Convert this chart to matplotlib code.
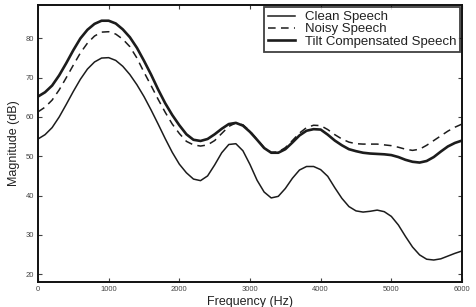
import numpy as np
import matplotlib
matplotlib.use("Agg")
import matplotlib.pyplot as plt

plt.rcParams['font.family'] = ['Liberation Sans', 'DejaVu Sans']

# frequency grid (Hz), values every 100 Hz
freq = np.arange(0, 6001, 100)

clean = [54.4, 55.5, 57.3, 60.0, 63.2, 66.5, 69.6, 72.2, 74.0, 75.0,
         75.1, 74.4, 72.9, 70.8, 68.2, 65.2, 61.8, 58.2, 54.5, 51.0,
         48.0, 45.8, 44.2, 43.8, 45.0, 47.8, 50.9, 53.0, 53.2, 51.4,
         47.9, 43.9, 40.9, 39.4, 39.8, 41.8, 44.4, 46.5, 47.4, 47.4,
         46.6, 44.9, 42.0, 39.3, 37.2, 36.1, 35.8, 36.0, 36.3, 35.9,
         34.7, 32.5, 29.6, 26.9, 24.9, 23.8, 23.6, 23.9, 24.6, 25.3,
         25.9]

noisy = [61.3, 62.5, 64.3, 66.9, 70.0, 73.2, 76.3, 78.8, 80.6, 81.6,
         81.7, 81.1, 79.8, 77.9, 75.0, 71.4, 68.0, 64.5, 61.2, 58.2,
         55.8, 53.8, 52.9, 52.6, 52.9, 54.0, 55.8, 57.6, 58.5, 58.0,
         56.4, 54.3, 52.2, 51.0, 51.1, 52.2, 54.0, 55.9, 57.3, 57.9,
         57.8, 56.8, 55.5, 54.4, 53.6, 53.2, 53.1, 53.1, 53.1, 52.9,
         52.7, 52.3, 51.8, 51.5, 51.8, 52.8, 54.0, 55.2, 56.4, 57.4,
         58.2]

tilt = [65.2, 66.3, 68.0, 70.6, 73.7, 77.0, 80.0, 82.2, 83.7, 84.5,
        84.5, 83.8, 82.3, 80.3, 77.6, 74.3, 70.8, 67.0, 63.5, 60.5,
        57.9, 55.6, 54.2, 53.9, 54.4, 55.6, 57.0, 58.2, 58.5, 57.8,
        56.2, 54.2, 52.1, 50.9, 50.9, 51.8, 53.5, 55.3, 56.5, 56.9,
        56.8, 55.5, 54.0, 52.8, 51.8, 51.3, 50.9, 50.7, 50.6, 50.5,
        50.3, 49.8, 49.1, 48.6, 48.4, 48.8, 49.8, 51.2, 52.5, 53.4,
        54.0]

xticks = [0, 1000, 2000, 3000, 4000, 5000, 6000]
yticks = [20, 30, 40, 50, 60, 70, 80]

fig = plt.figure(figsize=(4.76, 3.07), dpi=100)
ax = fig.add_axes([0.0798, 0.0814, 0.8908, 0.9023])

col = '#1c1c1c'
ax.plot(freq, clean, color=col, lw=1.1, label='Clean Speech')
ax.plot(freq, noisy, color=col, lw=1.1, dashes=(5, 3.5), label='Noisy Speech')
ax.plot(freq, tilt, color=col, lw=1.9, label='Tilt Compensated Speech')

ax.set_xlim(0, 6000)
ax.set_ylim(18, 88.5)
ax.set_xticks(xticks)
ax.set_yticks(yticks)
ax.tick_params(direction='in', length=3, width=0.8, labelsize=5.5,
               top=True, right=True, pad=3, colors='#444444')
for s in ax.spines.values():
    s.set_linewidth(1.4)
    s.set_color('#111111')

ax.set_xlabel('Frequency (Hz)', fontsize=9, labelpad=2, color='#222222')
ax.set_ylabel('Magnitude (dB)', fontsize=9, labelpad=4, color='#222222')

leg = ax.legend(loc='upper right', fontsize=9.5, frameon=True, fancybox=False,
                edgecolor='#111111', handlelength=2.0, handletextpad=0.75,
                labelspacing=0.0, borderpad=0.3, borderaxespad=0.15)
leg.get_frame().set_linewidth(1.3)
for t in leg.get_texts():
    t.set_color('#222222')

fig.savefig('out.png', dpi=100)
